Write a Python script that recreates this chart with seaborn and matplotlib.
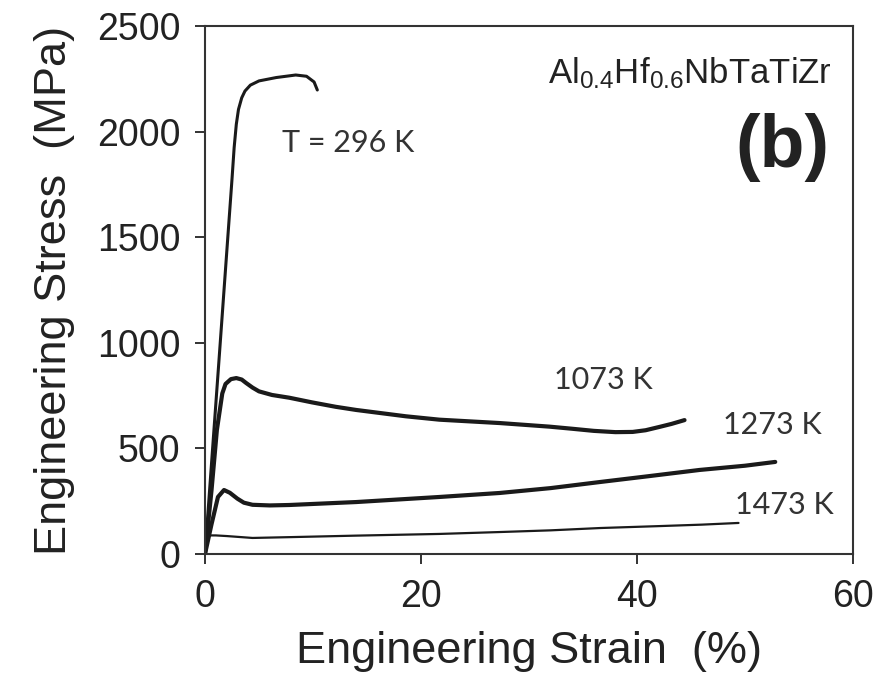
import matplotlib
matplotlib.use("Agg")
import matplotlib.pyplot as plt
import seaborn as sns
import pandas as pd

# Engineering stress-strain curves of Al0.4Hf0.6NbTaTiZr at four test temperatures
strain_296 = [0.0, 0.5, 1.3, 2.0, 2.5, 2.7, 2.9, 3.1, 3.4, 3.7, 4.2, 5.0, 6.6, 8.4, 9.4,
              10.1, 10.4]
stress_296 = [0, 355, 921, 1420, 1775, 1925, 2035, 2105, 2160, 2192, 2220, 2240, 2256,
              2268, 2262, 2235, 2197]

strain_1073 = [0.0, 0.6, 1.1, 1.6, 1.9, 2.4, 2.9, 3.4, 3.8, 4.4, 5.0, 6.2, 7.8, 9.9,
               12.1, 14.0, 18.6, 21.7, 27.3, 31.9, 34.0, 36.0, 38.0, 39.6, 40.8, 42.1,
               43.2, 44.4]
stress_1073 = [0, 300, 587, 760, 805, 828, 833, 826, 810, 788, 770, 753, 740, 718,
               697, 682, 652, 636, 620, 603, 593, 583, 577, 578, 586, 602, 616, 634]

strain_1273 = [0.0, 0.6, 1.2, 1.76, 2.3, 3.0, 3.6, 4.4, 6.0, 7.8, 14.0, 21.7, 27.3,
               32.0, 36.6, 41.0, 45.8, 50.0, 52.8]
stress_1273 = [0, 140, 270, 303, 290, 262, 243, 233, 230, 232, 246, 270, 289,
               312, 341, 368, 398, 418, 436]

strain_1473 = [0.0, 0.4, 1.0, 2.0, 4.4, 8.0, 14.0, 21.7, 27.3, 32.0, 36.6, 42.0, 46.0, 49.4]
stress_1473 = [0, 88, 88, 85, 76, 80, 87, 95, 104, 112, 123, 132, 139, 147]

curve_labels = ["T = 296 K", "1073 K", "1273 K", "1473 K"]
label_strain = [13.3, 36.9, 52.5, 53.6]
label_stress = [1946, 824, 611, 232]

x_ticks = [0, 20, 40, 60]
y_ticks = [0, 500, 1000, 1500, 2000, 2500]

sns.set_theme(style="ticks")
plt.rcParams["font.family"] = ["Liberation Sans", "DejaVu Sans"]
plt.rcParams["mathtext.default"] = "regular"

fig = plt.figure(figsize=(8.86, 6.83), dpi=100)
ax = fig.add_axes([205 / 886, 1 - 554 / 683, 648 / 886, 528 / 683])

ink = "#1a1a1a"
curves = [
    (strain_296, stress_296, 2.2),
    (strain_1073, stress_1073, 3.0),
    (strain_1273, stress_1273, 3.0),
    (strain_1473, stress_1473, 1.6),
]
for xs, ys, lw in curves:
    df = pd.DataFrame({"strain": xs, "stress": ys})
    sns.lineplot(data=df, x="strain", y="stress", ax=ax, sort=False,
                 color=ink, linewidth=lw, estimator=None)
for line in ax.lines:
    line.set_solid_joinstyle("round")
    line.set_solid_capstyle("round")

for txt, sx, sy in zip(curve_labels, label_strain, label_stress):
    ax.text(sx, sy, txt, fontsize=22, family=["Lato", "DejaVu Sans"],
            color="#333333", ha="center", va="center")

ax.text(0.967, 0.91, r"Al$_{0.4}$Hf$_{0.6}$NbTaTiZr", transform=ax.transAxes,
        fontsize=25, color="#222222", ha="right", va="center")
ax.text(0.964, 0.77, "(b)", transform=ax.transAxes, fontsize=53,
        fontweight="bold", color="#222222", ha="right", va="center")

ax.set_xlim(0, 60)
ax.set_ylim(0, 2500)
ax.set_xticks(x_ticks)
ax.set_yticks(y_ticks)
ax.tick_params(axis="both", direction="out", length=7.2, width=1.4,
               colors="#333333", labelsize=27, labelcolor="#222222", pad=10.5)
ax.tick_params(top=False, right=False)
for s in ax.spines.values():
    s.set_visible(True)
    s.set_color("#333333")
    s.set_linewidth(1.5)

ax.set_xlabel("Engineering Strain  (%)", fontsize=32.5, color="#222222", labelpad=12)
ax.set_ylabel("Engineering Stress  (MPa)", fontsize=32.5, color="#222222", labelpad=16)

fig.savefig("out.png", dpi=100, facecolor="white")
